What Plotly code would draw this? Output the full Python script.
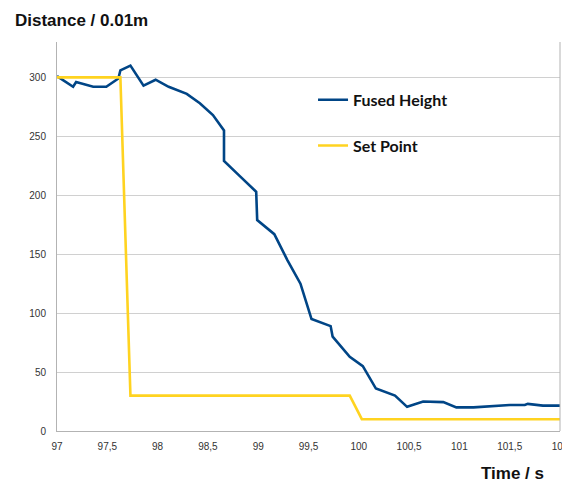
import plotly.graph_objects as go

fused_t = [97.0, 97.16, 97.19, 97.36, 97.49, 97.61, 97.63, 97.73, 97.86, 97.98, 98.11, 98.29,
           98.42, 98.55, 98.66, 98.66, 98.82, 98.98, 98.99, 99.16, 99.29, 99.42, 99.53, 99.72,
           99.74, 99.91, 100.04, 100.17, 100.36, 100.48, 100.64, 100.84, 100.97, 101.14, 101.5,
           101.65, 101.68, 101.83, 102.0]
fused_h = [301, 292, 296, 292, 292, 299, 306, 310, 293, 298, 292, 286,
           278, 268, 255, 229, 216, 203, 179, 167, 145, 125, 95, 89,
           80, 63, 55, 36, 30, 20.5, 25, 24.5, 20, 20, 22,
           22, 23, 21.5, 21.5]

set_t = [97.0, 97.63, 97.73, 99.91, 100.03, 102.0]
set_h = [300, 300, 30, 30, 10, 10]

x_ticks = [97, 97.5, 98, 98.5, 99, 99.5, 100, 100.5, 101, 101.5, 102]
x_ticklabels = ["97", "97,5", "98", "98,5", "99", "99,5", "100", "100,5", "101", "101,5", "102"]
y_ticks = [0, 50, 100, 150, 200, 250, 300]

fig = go.Figure()
fig.add_trace(go.Scatter(x=fused_t, y=fused_h, mode="lines", name="<b>Fused Height</b>",
                         line=dict(color="#004586", width=2.6), legendgroup="a"))
fig.add_trace(go.Scatter(x=set_t, y=set_h, mode="lines", name="<b>Set Point</b>",
                         line=dict(color="#ffd320", width=2.6), legendgroup="b"))

fig.update_layout(
    width=562, height=477,
    margin=dict(l=49, r=10, t=34, b=54, autoexpand=False),
    paper_bgcolor="white", plot_bgcolor="white",
    font=dict(family="Liberation Sans, Arial, sans-serif", color="#222"),
    legend=dict(x=0.509, y=0.895, xanchor="left", yanchor="top",
                bgcolor="rgba(0,0,0,0)", tracegroupgap=22,
                font=dict(family="Lato, sans-serif", size=16, color="#111"),
                itemwidth=30),
    xaxis=dict(range=[97, 102], tickvals=x_ticks, ticktext=x_ticklabels, showgrid=False,
               showline=True, linecolor="#b3b3b3", linewidth=1, ticks="", zeroline=False,
               ticklabelstandoff=6, automargin=False, ticklabeloverflow="allow",
               tickfont=dict(size=10, color="#333"), fixedrange=True),
    yaxis=dict(range=[0, 330], tickvals=y_ticks, showgrid=True, gridcolor="#d0d0d0", gridwidth=1,
               showline=True, linecolor="#b3b3b3", linewidth=1, ticks="", zeroline=False,
               ticklabelstandoff=8, automargin=False, ticklabeloverflow="allow",
               tickfont=dict(size=10, color="#333"), fixedrange=True),
    shapes=[dict(type="line", xref="paper", yref="paper", x0=1, x1=1, y0=0, y1=1,
                 line=dict(color="#b3b3b3", width=1))],
    annotations=[
        dict(text="<b>Distance / 0.01m</b>", xref="paper", yref="paper", x=-0.0875, y=1.054,
             xanchor="left", yanchor="middle", showarrow=False,
             font=dict(family="Liberation Sans, Arial, sans-serif", size=17, color="#111")),
        dict(text="<b>Time / s</b>", xref="paper", yref="paper", x=0.972, y=-0.1105,
             xanchor="right", yanchor="middle", showarrow=False,
             font=dict(family="Liberation Sans, Arial, sans-serif", size=17, color="#111")),
    ],
)

fig.write_html("out.html")
